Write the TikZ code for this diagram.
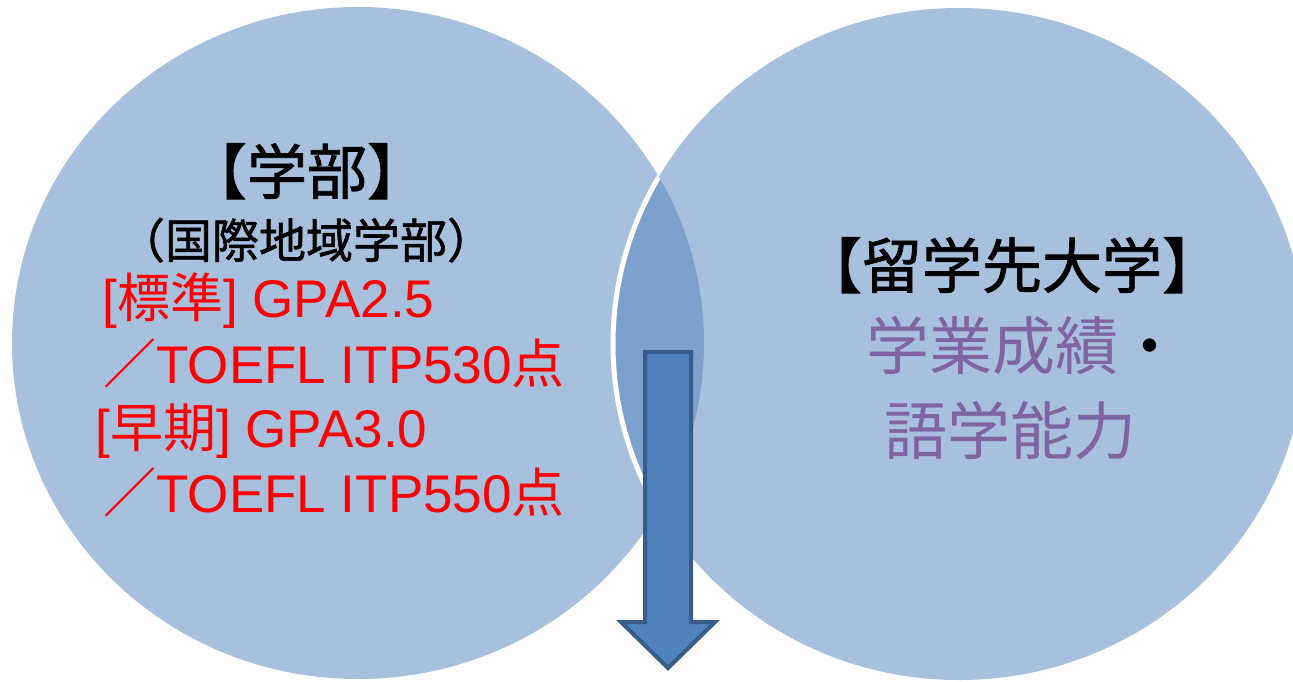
\documentclass[tikz,border=0pt]{standalone}
\usepackage{fontspec}
\setmainfont{Liberation Sans}
\newfontfamily\jp{Noto Sans CJK JP}
\newfontfamily\jph[RawFeature=+halt, FakeBold=1.2]{Noto Sans CJK JP}
\usetikzlibrary{positioning}
\definecolor{venn}{HTML}{A7C0DE}
\definecolor{vennmid}{HTML}{7CA1CD}
\definecolor{arrowfill}{HTML}{4F81BD}
\definecolor{arrowline}{HTML}{385D8A}
\definecolor{lilac}{HTML}{8064A2}
\definecolor{brightred}{HTML}{FF0000}

\begin{document}
\begin{tikzpicture}[x=0.5pt,y=-0.5pt]
        \tikzstyle{txt}=[inner sep=0pt, anchor=base west]
        \tikzstyle{ctxt}=[inner sep=0pt, anchor=base]
        \tikzstyle{big}=[font=\jph\fontsize{30}{36}\selectfont]
        \tikzstyle{mid}=[font=\fontsize{26.5}{32}\selectfont, brightred]

        \useasboundingbox (0,0) rectangle (1293,681);
        \clip (0,0) rectangle (1293,681);

        % Circle centres
        \coordinate (lc) at (358,343);
        \coordinate (rc) at (959,344);

        % Draw the circles
        \fill[venn] (lc) ellipse [x radius=346, y radius=336];
        \fill[venn] (rc) ellipse [x radius=346, y radius=336];
        \begin{scope}
            \clip (lc) ellipse [x radius=346, y radius=336];
            \fill[vennmid] (rc) ellipse [x radius=346, y radius=336];
            \draw[white, line width=2.5pt] (rc) ellipse [x radius=346, y radius=336];
        \end{scope}

        % Block arrow
        \draw[arrowline, fill=arrowfill, line width=2pt, line join=miter]
            (645,352) -- (691,352) -- (691,622) -- (715,622) -- (668,668)
            -- (621,622) -- (645,622) -- cycle;

        % Left circle texts
        \node[big, ctxt] (dept) at (307,194) {【学部】};
        \node[ctxt, font=\jph\fontsize{23.5}{28}\selectfont] (deptsub) at (306,258) {（国際地域学部）};
        \node[mid, txt] (std) at (102,317) {[{\jp 標準}] GPA2.5};
        \node[mid, txt] (stdtoefl) at (103,383) {{\jp ／}TOEFL ITP530{\jp 点}};
        \node[mid, txt] (early) at (95,447) {[{\jp 早期}] GPA3.0};
        \node[mid, txt] (earlytoefl) at (103,512) {{\jp ／}TOEFL ITP550{\jp 点}};

        % Right circle texts
        \node[big, ctxt] (host) at (1012,288) {【留学先大学】};
        \node[txt, lilac, font=\jp\fontsize{31.5}{36}\selectfont] (hostsub1) at (866,369) {学業成績{\color{black}・}};
        \node[ctxt, lilac, font=\jp\fontsize{31.5}{36}\selectfont] (hostsub2) at (1010,454) {語学能力};
    \end{tikzpicture}
\end{document}
